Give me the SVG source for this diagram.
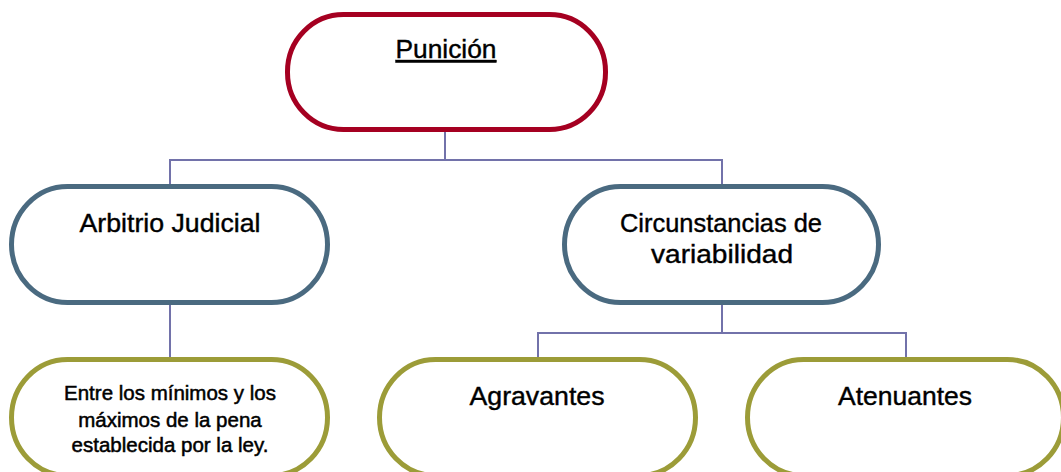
<svg xmlns="http://www.w3.org/2000/svg" width="1061" height="472" viewBox="0 0 1061 472">
<style>
.box{fill:#FFFFFF;stroke-width:5}
.red{stroke:#A50021}
.blue{stroke:#4A6A80}
.olive{stroke:#9C9C38}
.lbl{font-family:"Liberation Sans",Arial,sans-serif;font-size:26px;fill:#000000;stroke:#000000;stroke-width:0.4;text-anchor:middle}
.sm{font-size:20.5px;stroke-width:0.5}
.conn{fill:none;stroke:#7272AA;stroke-width:2}
</style>
<rect width="1061" height="472" fill="#FFFFFF"/>
<g id="connectors">
<path class="conn" d="M445,132 V160 M170,186 V160 H722 V186"/>
<path class="conn" d="M170,305 V359"/>
<path class="conn" d="M722,305 V333 M538,359 V333 H906 V359"/>
</g>
<g id="punicion">
<rect class="box red" x="287.5" y="14.5" width="318" height="115" rx="56" ry="57"/>
<text class="lbl" x="446" y="58" text-decoration="underline" textLength="101" lengthAdjust="spacingAndGlyphs">Punición</text>
</g>
<g id="arbitrio">
<rect class="box blue" x="11.5" y="186.5" width="316" height="116" rx="56" ry="58"/>
<text class="lbl" x="170" y="232" textLength="181" lengthAdjust="spacingAndGlyphs">Arbitrio Judicial</text>
</g>
<g id="circunstancias">
<rect class="box blue" x="564.5" y="186.5" width="314" height="116" rx="56" ry="58"/>
<text class="lbl" x="721" y="232" textLength="202" lengthAdjust="spacingAndGlyphs">Circunstancias de</text>
<text class="lbl" x="722" y="263" textLength="142" lengthAdjust="spacingAndGlyphs">variabilidad</text>
</g>
<g id="entre">
<rect class="box olive" x="11.5" y="359.5" width="316" height="116" rx="56" ry="58"/>
<text class="lbl sm" x="170" y="400">Entre los mínimos y los</text>
<text class="lbl sm" x="170" y="427">máximos de la pena</text>
<text class="lbl sm" x="170" y="452">establecida por la ley.</text>
</g>
<g id="agravantes">
<rect class="box olive" x="379.5" y="359.5" width="316" height="116" rx="56" ry="58"/>
<text class="lbl" x="537" y="405" textLength="135" lengthAdjust="spacingAndGlyphs">Agravantes</text>
</g>
<g id="atenuantes">
<rect class="box olive" x="747.5" y="359.5" width="316" height="116" rx="56" ry="58"/>
<text class="lbl" x="905" y="405" textLength="134" lengthAdjust="spacingAndGlyphs">Atenuantes</text>
</g>
</svg>
